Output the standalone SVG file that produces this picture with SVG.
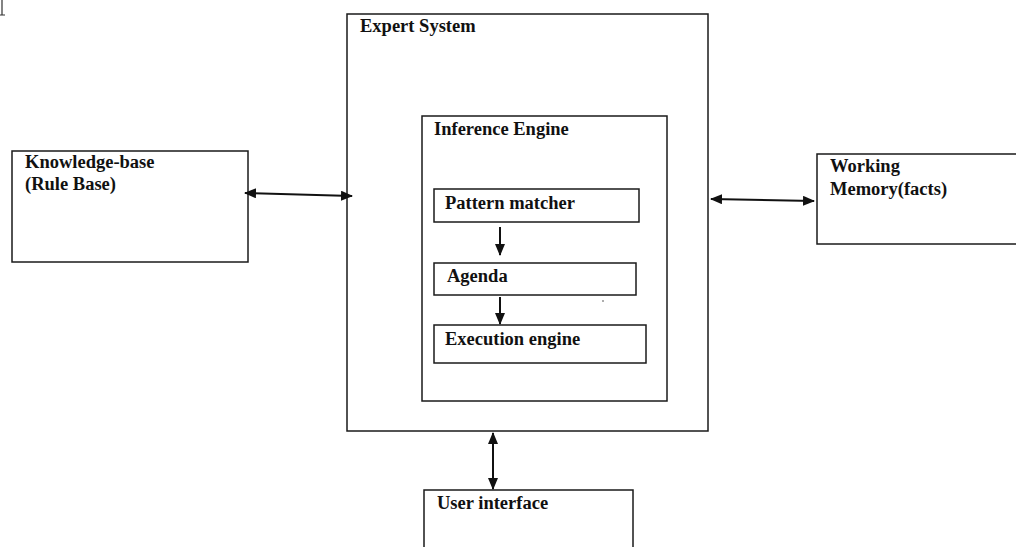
<svg xmlns="http://www.w3.org/2000/svg" width="1016" height="547" viewBox="0 0 1016 547">
<style>
.box{fill:none;stroke:#1a1a1a;stroke-width:1.5}
.t{font-family:"Liberation Serif","Times New Roman",serif;font-weight:bold;font-size:18.5px;fill:#111}
.c{stroke:#111;stroke-width:2;fill:none}
</style>
<defs>
<marker id="ah" viewBox="0 0 12 10" refX="11" refY="5" markerWidth="12" markerHeight="10" markerUnits="userSpaceOnUse" orient="auto-start-reverse">
<path d="M0,0 L12,5 L0,10 z" fill="#111"/>
</marker>
</defs>
<rect width="1016" height="547" fill="#fff"/>
<path d="M2,0 V15 M0,15 H5" stroke="#333" stroke-width="1.2" fill="none"/>
<g id="expert-system">
<rect class="box" x="347" y="14" width="361" height="417"/>
<text class="t" x="360" y="32">Expert System</text>
</g>
<g id="inference-engine">
<rect class="box" x="422" y="116" width="245" height="285"/>
<text class="t" x="434" y="135">Inference Engine</text>
</g>
<g id="pattern-matcher">
<rect class="box" x="434" y="189" width="205" height="33"/>
<text class="t" x="445" y="209">Pattern matcher</text>
</g>
<g id="agenda">
<rect class="box" x="434" y="263" width="202" height="32"/>
<text class="t" x="447" y="282">Agenda</text>
</g>
<g id="execution-engine">
<rect class="box" x="434" y="325" width="212" height="38"/>
<text class="t" x="445" y="345">Execution engine</text>
</g>
<g id="knowledge-base">
<rect class="box" x="12" y="151" width="236" height="111"/>
<text class="t" x="25" y="168">Knowledge-base</text>
<text class="t" x="25" y="190">(Rule Base)</text>
</g>
<g id="working-memory">
<rect class="box" x="817" y="154" width="205" height="90"/>
<text class="t" x="830" y="172">Working</text>
<text class="t" x="830" y="195">Memory(facts)</text>
</g>
<g id="user-interface">
<rect class="box" x="424" y="490" width="209" height="70"/>
<text class="t" x="437" y="509">User interface</text>
</g>
<circle cx="603" cy="301" r="0.8" fill="#444"/>
<g id="connectors">
<line class="c" x1="245" y1="193" x2="352" y2="196" marker-start="url(#ah)" marker-end="url(#ah)"/>
<line class="c" x1="711" y1="199" x2="814" y2="201" marker-start="url(#ah)" marker-end="url(#ah)"/>
<line class="c" x1="493" y1="433" x2="493" y2="489" marker-start="url(#ah)" marker-end="url(#ah)"/>
<line class="c" x1="500" y1="227" x2="500" y2="255" marker-end="url(#ah)"/>
<line class="c" x1="500" y1="297" x2="500" y2="324" marker-end="url(#ah)"/>
</g>
</svg>
